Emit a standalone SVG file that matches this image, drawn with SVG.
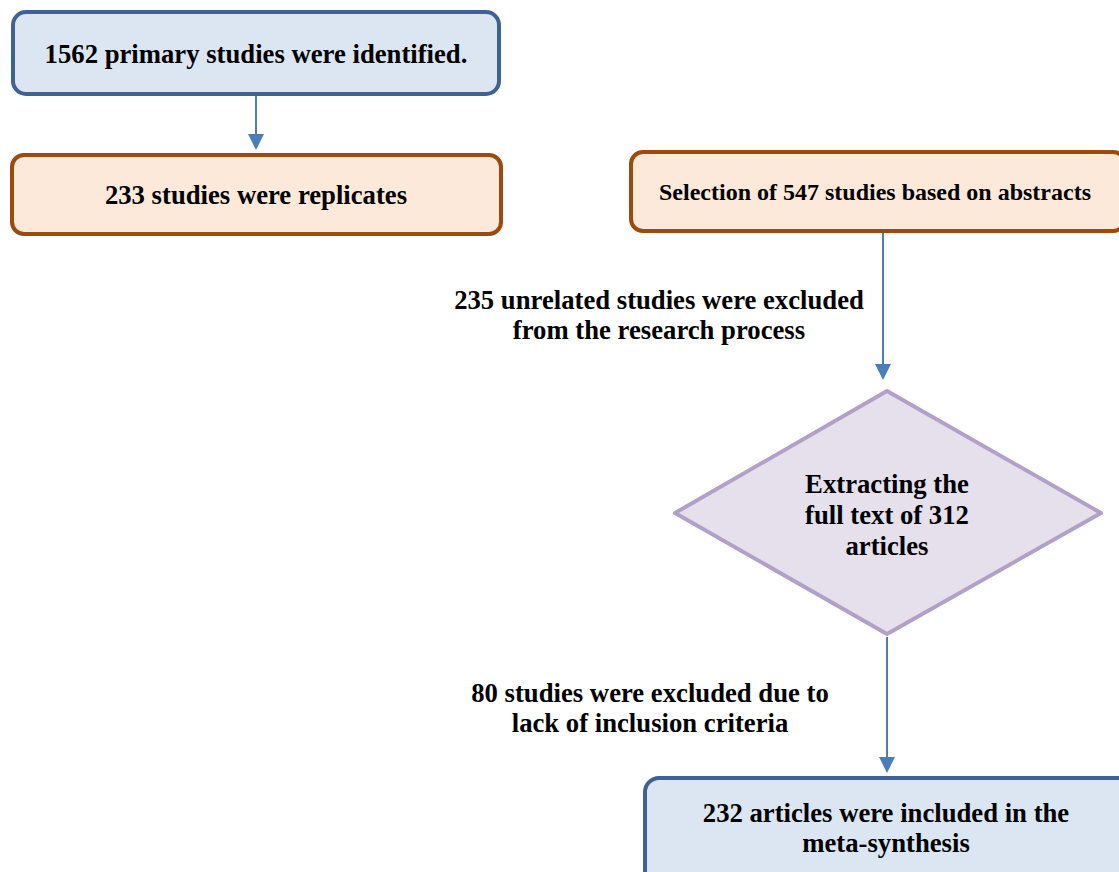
<svg xmlns="http://www.w3.org/2000/svg" width="1119" height="872" viewBox="0 0 1119 872">
<style>
.t{font-family:"Liberation Serif","Times New Roman",serif;font-weight:bold;fill:#000;text-anchor:middle;font-size:26.7px}
.blue{fill:#DCE6F2;stroke:#3F6291;stroke-width:4}
.orange{fill:#FDE9D9;stroke:#9C4A0D;stroke-width:4}
.purple{fill:#E5E0EC;stroke:#B2A1C7;stroke-width:4;stroke-linejoin:round}
.conn{stroke:#4A7EBB;stroke-width:2;fill:none}
.head{fill:#4A7EBB}
</style>
<rect width="1119" height="872" fill="#fff"/>
<g id="connectors">
<line class="conn" x1="256" y1="96" x2="256" y2="134"/>
<path class="head" d="M248,134 L264,134 L256,150 z"/>
<line class="conn" x1="883" y1="233" x2="883" y2="364"/>
<path class="head" d="M875,364 L891,364 L883,380 z"/>
<line class="conn" x1="887" y1="637" x2="887" y2="757"/>
<path class="head" d="M879,757 L895,757 L887,773 z"/>
</g>
<g id="n1">
<rect class="blue" x="13" y="12" width="486" height="82" rx="13"/>
<text class="t" x="256" y="63">1562 primary studies were identified.</text>
</g>
<g id="n2">
<rect class="orange" x="12" y="155" width="489" height="79" rx="12"/>
<text class="t" x="256" y="204">233 studies were replicates</text>
</g>
<g id="n3">
<rect class="orange" x="631" y="152" width="494" height="79" rx="12"/>
<text class="t" x="875" y="200" style="font-size:23px" textLength="432" lengthAdjust="spacingAndGlyphs">Selection of 547 studies based on abstracts</text>
</g>
<g id="l1">
<text class="t" x="659" y="309">235 unrelated studies were excluded</text>
<text class="t" x="659" y="339">from the research process</text>
</g>
<g id="n4">
<polygon class="purple" points="887,391 1101,513 887,634 675,513"/>
<text class="t" x="887" y="493">Extracting the</text>
<text class="t" x="887" y="524">full text of 312</text>
<text class="t" x="887" y="555">articles</text>
</g>
<g id="l2">
<text class="t" x="650" y="702">80 studies were excluded due to</text>
<text class="t" x="650" y="732">lack of inclusion criteria</text>
</g>
<g id="n5">
<rect class="blue" x="645" y="778" width="490" height="110" rx="14"/>
<text class="t" x="886" y="822">232 articles were included in the</text>
<text class="t" x="886" y="852">meta-synthesis</text>
</g>
</svg>
